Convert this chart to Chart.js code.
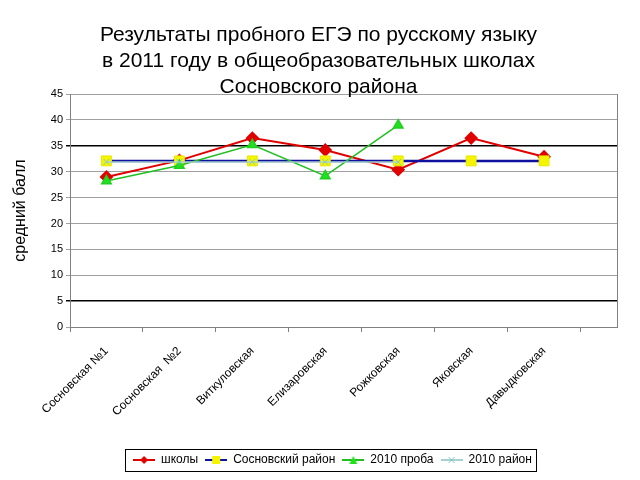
<!DOCTYPE html>
<html>
<head>
<meta charset="utf-8">
<script src="https://cdn.jsdelivr.net/npm/chart.js@4"></script>
<style>
html,body{margin:0;padding:0;background:#fff;}
#wrap{width:640px;height:480px;}
</style>
</head>
<body>
<div id="wrap"><canvas id="c" width="640" height="480"></canvas></div>
<script>
const categories = ['Сосновская №1', 'Сосновская  №2', 'Виткуловская', 'Елизаровская', 'Рожковская', 'Яковская', 'Давыдковская'];
const schools = [29.0, 32.2, 36.5, 34.2, 30.4, 36.5, 32.9];
const district = [32.1, 32.1, 32.1, 32.1, 32.1, 32.1, 32.1];
const trial2010 = [28.2, 31.2, 35.2, 29.2, 39.0];
const district2010 = [31.9, 31.9, 31.9, 31.9, 31.9];
const yTicks = [0, 5, 10, 15, 20, 25, 30, 35, 40, 45];
const seriesNames = ['школы', 'Сосновский район', '2010 проба', '2010 район'];
const titleLines = ['Результаты пробного ЕГЭ по русскому языку', 'в 2011 году в общеобразовательных школах', 'Сосновского района'];
const yTitle = 'средний балл';

const FONT = '"Liberation Sans", Arial, sans-serif';
const toPts = arr => arr.map((v, i) => ({x: i, y: v}));

function legendIcon(lineColor, markerFn) {
  const cv = document.createElement('canvas');
  cv.width = 22; cv.height = 12;
  const g = cv.getContext('2d');
  g.strokeStyle = lineColor; g.lineWidth = 2;
  g.beginPath(); g.moveTo(0, 6); g.lineTo(22, 6); g.stroke();
  markerFn(g, 11, 6);
  return cv;
}
const icons = [
  legendIcon('#e00000', (g, x, y) => { g.fillStyle = '#e00000'; g.beginPath(); g.moveTo(x, y-4); g.lineTo(x+4, y); g.lineTo(x, y+4); g.lineTo(x-4, y); g.closePath(); g.fill(); }),
  legendIcon('#1010a0', (g, x, y) => { g.fillStyle = '#f5f500'; g.fillRect(x-4, y-4, 8, 8); }),
  legendIcon('#20c020', (g, x, y) => { g.fillStyle = '#20e020'; g.beginPath(); g.moveTo(x, y-4); g.lineTo(x+4, y+4); g.lineTo(x-4, y+4); g.closePath(); g.fill(); }),
  legendIcon('#a8d0d0', (g, x, y) => { g.strokeStyle = '#80c8c8'; g.lineWidth = 1; g.beginPath(); g.moveTo(x-3, y-3); g.lineTo(x+3, y+3); g.moveTo(x+3, y-3); g.lineTo(x-3, y+3); g.stroke(); })
];

const shiftBoxes = {
  id: 'shiftBoxes',
  afterLayout(chart) {
    if (chart.legend) { chart.legend.left += 24; chart.legend.right += 24; }
    if (chart.titleBlock) { chart.titleBlock.left += 10; chart.titleBlock.right += 10; }
  }
};

const legendBorder = {
  id: 'legendBorder',
  afterDraw(chart) {
    const lg = chart.legend;
    if (!lg || !lg.legendHitBoxes || !lg.legendHitBoxes.length) return;
    const hb = lg.legendHitBoxes;
    let l = Infinity, r = -Infinity, t = Infinity, b = -Infinity;
    hb.forEach(h => { l = Math.min(l, h.left); r = Math.max(r, h.left + h.width); t = Math.min(t, h.top); b = Math.max(b, h.top + h.height); });
    const ctx = chart.ctx;
    ctx.save();
    ctx.strokeStyle = '#000'; ctx.lineWidth = 1;
    ctx.strokeRect(Math.round(l - 8) + 0.5, Math.round(t - 5) + 0.5, Math.round(r - l + 12), Math.round(b - t + 10));
    ctx.restore();
  }
};

new Chart(document.getElementById('c'), {
  type: 'line',
  data: {
    datasets: [
      { label: seriesNames[0], data: toPts(schools), order: 4, borderColor: '#e00000', backgroundColor: '#e00000', borderWidth: 2,
        pointStyle: 'rectRot', pointRadius: 5.5, pointBorderColor: '#e00000', pointBackgroundColor: '#e00000', xAxisID: 'x', yAxisID: 'y' },
      { label: seriesNames[1], data: toPts(district), order: 3, borderColor: '#1010a0', backgroundColor: '#f5f500', borderWidth: 2.5,
        pointStyle: 'rect', pointRadius: 7, pointBorderColor: '#e8e800', pointBackgroundColor: '#f5f500', pointBorderWidth: 1, xAxisID: 'x', yAxisID: 'y' },
      { label: seriesNames[2], data: toPts(trial2010), order: 2, borderColor: '#20c020', backgroundColor: '#20e020', borderWidth: 1.5,
        pointStyle: 'triangle', pointRadius: 5.5, pointBorderColor: '#20d020', pointBackgroundColor: '#20e020', xAxisID: 'x', yAxisID: 'y' },
      { label: seriesNames[3], data: toPts(district2010), order: 1, borderColor: '#a8d0d0', backgroundColor: '#80c8c8', borderWidth: 1.5,
        pointStyle: 'crossRot', pointRadius: 4, pointBorderColor: '#80c8c8', pointBorderWidth: 1, xAxisID: 'x', yAxisID: 'y' }
    ]
  },
  options: {
    responsive: false,
    animation: false,
    events: [],
    layout: { padding: { left: 0, right: 23, top: 0, bottom: 4 } },
    plugins: {
      tooltip: { enabled: false },
      title: {
        display: true, text: titleLines, color: '#000',
        font: { family: FONT, size: 21, weight: 'normal', lineHeight: 1.24 },
        padding: { top: 22, bottom: -6 }
      },
      legend: {
        position: 'bottom',
        labels: {
          color: '#000', font: { family: FONT, size: 12 },
          usePointStyle: true, pointStyleWidth: 22, boxHeight: 12, padding: 7,
          generateLabels: chart => seriesNames.map((n, i) => ({
            text: n, pointStyle: icons[i], fillStyle: 'transparent', strokeStyle: 'transparent', lineWidth: 0, datasetIndex: i, hidden: false
          }))
        }
      }
    },
    scales: {
      x2: {
        type: 'linear', position: 'bottom', weight: -1, min: -0.5, max: 7.0,
        afterBuildTicks: axis => { axis.ticks = categories.map((c, i) => ({ value: i - 0.5 })).concat([{ value: categories.length - 0.5 }]); },
        ticks: { display: false },
        grid: { drawOnChartArea: false, drawTicks: true, tickLength: 5, color: '#808080' },
        border: { display: true, color: '#808080', width: 1 }
      },
      x: {
        type: 'linear', position: 'bottom', weight: 0, min: -0.5, max: 7.0,
        afterBuildTicks: axis => { axis.ticks = categories.map((c, i) => ({ value: i })); },
        afterFit: s => { s.height = 115; },
        ticks: {
          autoSkip: false, minRotation: 45, maxRotation: 45, color: '#000', padding: 4,
          font: { family: FONT, size: 12 },
          callback: v => categories[v]
        },
        grid: { display: false },
        border: { display: false }
      },
      y: {
        type: 'linear', position: 'left', min: 0, max: 45,
        afterBuildTicks: axis => { axis.ticks = yTicks.map(v => ({ value: v })); },
        afterFit: s => { s.width = 70; },
        ticks: { color: '#000', font: { family: FONT, size: 11 }, padding: 3 },
        grid: {
          color: ctx => (ctx.tick && (ctx.tick.value === 5 || ctx.tick.value === 35)) ? '#000' : '#a0a0a0',
          lineWidth: ctx => (ctx.tick && (ctx.tick.value === 5 || ctx.tick.value === 35)) ? 1.5 : 1,
          tickLength: 4
        },
        border: { display: true, color: '#808080', width: 1 },
        title: { display: true, text: yTitle, color: '#000', font: { family: FONT, size: 16 }, padding: { top: 11, bottom: 0 } }
      },
      y2: {
        type: 'linear', position: 'right', min: 0, max: 45,
        ticks: { display: false },
        grid: { drawOnChartArea: false, drawTicks: false },
        border: { display: true, color: '#808080', width: 1 }
      }
    }
  },
  plugins: [shiftBoxes, legendBorder]
});
</script>
</body>
</html>
